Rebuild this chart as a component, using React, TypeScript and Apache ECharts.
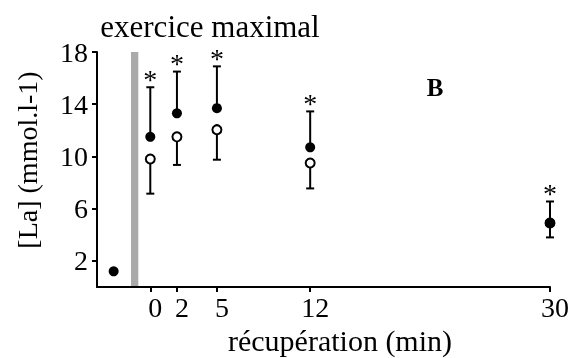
import React, { useEffect, useRef } from "react";
import * as echarts from "echarts";

// recovery times (min)
const times = [0, 2, 5, 12, 30];
// filled circles: mean and upper error bar
const filledMean = [11.5, 13.3, 13.7, 10.7, 4.9];
const filledHigh = [15.3, 16.5, 16.9, 13.45, 6.55];
// open circles: mean and lower error bar
const openMean = [9.8, 11.5, 12.05, 9.5, 4.9];
const openLow = [7.15, 9.35, 9.75, 7.55, 3.8];
// resting value (before exercise)
const restTime = [-2.75];
const restValue = [1.2];
// exercise band (x range) and its top
const exerciseBand = [-1.45, -0.9];
const exerciseTop = 18.45;
// axis ticks
const xTicks = [0, 2, 5, 12, 30];
const yTicks = [2, 6, 10, 14, 18];

const FONT = "Liberation Serif";

export default function App() {
  const ref = useRef<HTMLDivElement>(null);
  useEffect(() => {
    const chart = echarts.init(ref.current as HTMLDivElement, null, { renderer: "svg" });
    const axisLine = { show: true, onZero: false, lineStyle: { color: "#000", width: 2 } };
    chart.setOption({
      animation: false,
      grid: { left: 97, right: 26, top: 52, bottom: 71, outerBoundsMode: "none" },
      xAxis: {
        type: "value",
        min: -4,
        max: 30,
        axisLine,
        splitLine: { show: false },
        axisTick: { show: true, customValues: xTicks, length: 5, lineStyle: { color: "#000", width: 2 } },
        axisLabel: {
          customValues: xTicks,
          color: "#000",
          fontFamily: FONT,
          fontSize: 28,
          margin: 6,
          padding: [0, 0, 0, 10],
        },
      },
      yAxis: {
        type: "value",
        min: 0,
        max: 18,
        axisLine,
        splitLine: { show: false },
        axisTick: { show: true, customValues: yTicks, length: 5, lineStyle: { color: "#000", width: 2 } },
        axisLabel: {
          customValues: yTicks,
          color: "#000",
          fontFamily: FONT,
          fontSize: 28,
          margin: 9,
        },
      },
      graphic: [
        {
          type: "text",
          x: 210,
          y: 26,
          style: { text: "exercice maximal", fontFamily: FONT, fontSize: 31, fill: "#000", align: "center", verticalAlign: "middle" },
        },
        {
          type: "text",
          x: 340,
          y: 340,
          style: { text: "récupération (min)", fontFamily: FONT, fontSize: 30, fill: "#000", align: "center", verticalAlign: "middle" },
        },
        {
          type: "text",
          x: 27,
          y: 160,
          rotation: Math.PI / 2,
          style: {
            text: "[La] (mmol.l-1)",
            fontFamily: FONT,
            fontSize: 28,
            fill: "#000",
            align: "center",
            verticalAlign: "middle",
          },
        },
        {
          type: "text",
          x: 435,
          y: 87,
          style: {
            text: "B",
            fontFamily: FONT,
            fontWeight: "bold",
            fontSize: 25,
            fill: "#000",
            align: "center",
            verticalAlign: "middle",
          },
        },
      ],
      series: [
        {
          type: "custom",
          z: 1,
          encode: { x: 0, y: [1, 2, 3, 4] },
          data: times.map((t, i) => [t, filledMean[i], filledHigh[i], openMean[i], openLow[i]]),
          renderItem: (_params: any, api: any) => {
            const x = api.value(0);
            const fm = api.coord([x, api.value(1)]);
            const fh = api.coord([x, api.value(2)]);
            const om = api.coord([x, api.value(3)]);
            const ol = api.coord([x, api.value(4)]);
            const cap = 4;
            const ls = { stroke: "#000", lineWidth: 2 };
            return {
              type: "group",
              children: [
                { type: "line", shape: { x1: fm[0], y1: fm[1], x2: fh[0], y2: fh[1] }, style: ls },
                { type: "line", shape: { x1: fh[0] - cap, y1: fh[1], x2: fh[0] + cap, y2: fh[1] }, style: ls },
                { type: "line", shape: { x1: om[0], y1: om[1], x2: ol[0], y2: ol[1] }, style: ls },
                { type: "line", shape: { x1: ol[0] - cap, y1: ol[1], x2: ol[0] + cap, y2: ol[1] }, style: ls },
                {
                  type: "text",
                  x: fh[0],
                  y: fh[1] - 8,
                  style: {
                    text: "*",
                    fontFamily: FONT,
                    fontSize: 28,
                    fill: "#000",
                    align: "center",
                    verticalAlign: "middle",
                  },
                },
              ],
            };
          },
        },
        {
          type: "scatter",
          z: 2,
          symbol: "circle",
          symbolSize: 9,
          itemStyle: { color: "#fff", borderColor: "#000", borderWidth: 2, opacity: 1 },
          data: times.map((t, i) => [t, openMean[i]]),
          markArea: {
            silent: true,
            z: 0,
            itemStyle: { color: "#aaaaaa" },
            data: [[{ xAxis: exerciseBand[0], yAxis: 0 }, { xAxis: exerciseBand[1], yAxis: exerciseTop }]],
          },
        },
        {
          type: "scatter",
          z: 3,
          symbol: "circle",
          symbolSize: 10,
          itemStyle: { color: "#000", opacity: 1 },
          data: [
            ...restTime.map((t, i) => [t, restValue[i]]),
            ...times.map((t, i) => [t, filledMean[i]]),
          ],
        },
      ],
    });
    return () => chart.dispose();
  }, []);
  return <div ref={ref} style={{ position: "fixed", left: 0, top: 0, width: 576, height: 358 }} />;
}
